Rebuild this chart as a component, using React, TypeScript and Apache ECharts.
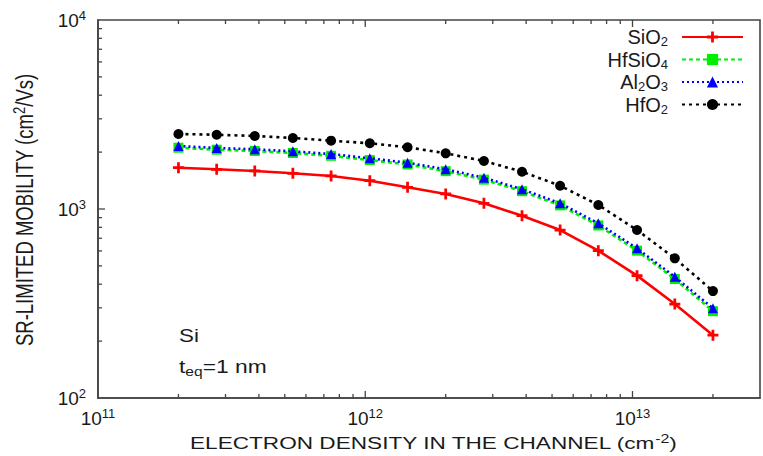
import React, { useEffect, useRef } from "react";
import * as echarts from "echarts";

const density = [2.0e11, 2.78e11, 3.86e11, 5.36e11, 7.45e11, 1.04e12, 1.44e12, 2.0e12, 2.78e12, 3.86e12, 5.36e12, 7.45e12, 1.04e13, 1.44e13, 2.0e13];
const sio2 = [1654, 1622, 1589, 1545, 1495, 1412, 1303, 1201, 1072, 922, 774, 602, 444, 314, 215];
const hfsio4 = [2110, 2060, 2028, 1978, 1912, 1815, 1720, 1585, 1430, 1242, 1045, 818, 602, 426, 288];
const al2o3 = [2154, 2103, 2070, 2020, 1954, 1855, 1758, 1622, 1464, 1272, 1072, 840, 619, 438, 298];
const hfo2 = [2494, 2472, 2433, 2376, 2299, 2227, 2121, 1971, 1795, 1575, 1328, 1050, 774, 548, 368];

const seriesNames = ["SiO2", "HfSiO4", "Al2O3", "HfO2"];
const X_MIN = 1e11;
const X_MAX = 3e13;
const Y_MIN = 1e2;
const Y_MAX = 1e4;
const xMajorTicks = [1e12, 1e13];
const xMinorTicks = [2e11, 3e11, 4e11, 5e11, 6e11, 7e11, 8e11, 9e11, 2e12, 3e12, 4e12, 5e12, 6e12, 7e12, 8e12, 9e12, 2e13];
const yMajorTicks = [1e3];
const yMinorTicks = [2e2, 3e2, 4e2, 5e2, 6e2, 7e2, 8e2, 9e2, 2e3, 3e3, 4e3, 5e3, 6e3, 7e3, 8e3, 9e3];

const FONT = "Liberation Sans, Arial, sans-serif";
const TXT = "#1a1a1a";
const AXIS = "#444";

const chem = (name: string) =>
  name.replace(/([A-Za-z]+)|(\d+)/g, (m, a, d) => (a ? `{n|${a}}` : `{s|${d}}`));

const pow10 = (v: number) => {
  const e = Math.log10(v);
  if (Math.abs(e - Math.round(e)) > 1e-6) return "";
  return `{b|10}{p|${Math.round(e)}}`;
};

const tickRich = {
  b: { fontSize: 19, fontFamily: FONT, color: TXT },
  p: { fontSize: 13, fontFamily: FONT, color: TXT, padding: [0, 0, 10, 0] },
};

export default function App() {
  const ref = useRef<HTMLDivElement>(null);
  useEffect(() => {
    if (!ref.current) return;
    const chart = echarts.init(ref.current, undefined, { renderer: "svg" });
    const plus = "path://M3,0H5V3H8V5H5V8H3V5H0V3H3Z";
    const mk = (vals: number[]) => density.map((x, i) => [x, vals[i]]);
    const tickData: number[][] = [
      ...xMinorTicks.map((v) => [v, Y_MIN, 0]),
      ...xMajorTicks.map((v) => [v, Y_MIN, 1]),
      ...yMinorTicks.map((v) => [X_MIN, v, 2]),
      ...yMajorTicks.map((v) => [X_MIN, v, 3]),
    ];
    chart.setOption({
      animation: false,
      backgroundColor: "#fff",
      grid: { left: 98, top: 20, bottom: 58, right: -9, show: true, borderColor: AXIS, borderWidth: 1.6 },
      xAxis: {
        type: "log",
        logBase: 10,
        min: X_MIN,
        max: X_MAX,
        axisLine: { lineStyle: { color: AXIS, width: 1.6 } },
        axisTick: { show: false },
        splitLine: { show: false },
        axisLabel: { formatter: pow10, rich: tickRich, margin: 9 },
      },
      yAxis: {
        type: "log",
        logBase: 10,
        min: Y_MIN,
        max: Y_MAX,
        axisLine: { lineStyle: { color: AXIS, width: 1.6 } },
        axisTick: { show: false },
        splitLine: { show: false },
        axisLabel: { formatter: pow10, rich: tickRich, margin: 12 },
      },
      legend: {
        data: seriesNames,
        orient: "vertical",
        align: "right",
        right: 19,
        top: 27,
        padding: 0,
        itemWidth: 61,
        itemHeight: 14,
        itemGap: 1.5,
        formatter: chem,
        textStyle: {
          padding: [0, 9, 0, 0],
          rich: {
            n: { fontSize: 20, fontFamily: FONT, color: TXT },
            s: { fontSize: 13, fontFamily: FONT, color: TXT, padding: [9, 0, 0, 0] },
          },
        },
      },
      graphic: [
        {
          type: "text",
          x: 433,
          y: 443,
          scaleX: 1.33,
          style: {
            text: "{n|ELECTRON DENSITY IN THE CHANNEL (cm}{p|-2}{n|)}",
            align: "center",
            verticalAlign: "middle",
            rich: {
              n: { fontSize: 17, fontFamily: FONT, fill: TXT },
              p: { fontSize: 12, fontFamily: FONT, fill: TXT, padding: [0, 0, 9, 0] },
            },
          },
        },
        {
          type: "text",
          x: 25,
          y: 210,
          rotation: Math.PI / 2,
          scaleY: 1.25,
          style: {
            text: "{n|SR-LIMITED MOBILITY (cm}{p|2}{n|/Vs)}",
            align: "center",
            verticalAlign: "middle",
            rich: {
              n: { fontSize: 18.5, fontFamily: FONT, fill: TXT },
              p: { fontSize: 13, fontFamily: FONT, fill: TXT, padding: [0, 0, 9, 0] },
            },
          },
        },
        {
          type: "text",
          x: 179,
          y: 335,
          scaleX: 1.18,
          style: { text: "Si", fontSize: 19, fontFamily: FONT, fill: TXT, verticalAlign: "middle" },
        },
        {
          type: "text",
          x: 179,
          y: 366,
          scaleX: 1.2,
          style: {
            text: "{n|t}{s|eq}{n|=1 nm}",
            verticalAlign: "middle",
            rich: {
              n: { fontSize: 19, fontFamily: FONT, fill: TXT },
              s: { fontSize: 13, fontFamily: FONT, fill: TXT, padding: [10, 0, 0, 0] },
            },
          },
        },
      ],
      series: [
        {
          name: "SiO2",
          type: "line",
          data: mk(sio2),
          symbol: plus,
          symbolSize: 11,
          color: "#ff0000",
          lineStyle: { color: "#ff0000", width: 2.6 },
          itemStyle: { color: "#ff0000" },
          z: 3,
        },
        {
          name: "HfSiO4",
          type: "line",
          data: mk(hfsio4),
          symbol: "rect",
          symbolSize: 10,
          color: "#00ee00",
          lineStyle: { color: "#00ee00", width: 2.6, type: [4, 3] },
          itemStyle: { color: "#00ee00" },
          z: 4,
        },
        {
          name: "Al2O3",
          type: "line",
          data: mk(al2o3),
          symbol: "triangle",
          symbolSize: 10,
          color: "#0000ff",
          lineStyle: { color: "#0000ff", width: 2.6, type: [2, 3] },
          itemStyle: { color: "#0000ff" },
          z: 5,
        },
        {
          name: "HfO2",
          type: "line",
          data: mk(hfo2),
          symbol: "circle",
          symbolSize: 10,
          color: "#000000",
          lineStyle: { color: "#000000", width: 2.6, type: [3, 4] },
          itemStyle: { color: "#000000" },
          z: 5,
        },
        {
          name: "ticks",
          type: "custom",
          silent: true,
          clip: false,
          z: 10,
          data: tickData,
          encode: { x: 0, y: 1 },
          renderItem: (params: any, api: any) => {
            const kind = api.value(2);
            const st = { stroke: AXIS, lineWidth: 1.3 };
            if (kind < 2) {
              const v = api.value(0);
              const pb = api.coord([v, Y_MIN]);
              const pt = api.coord([v, Y_MAX]);
              const len = kind === 1 ? 7 : 4;
              return {
                type: "group",
                children: [
                  { type: "line", shape: { x1: pb[0], y1: pb[1], x2: pb[0], y2: pb[1] - len }, style: st },
                  { type: "line", shape: { x1: pt[0], y1: pt[1], x2: pt[0], y2: pt[1] + len }, style: st },
                ],
              };
            }
            const v = api.value(1);
            const pl = api.coord([X_MIN, v]);
            const len = kind === 3 ? 7 : 4;
            return {
              type: "group",
              children: [{ type: "line", shape: { x1: pl[0], y1: pl[1], x2: pl[0] + len, y2: pl[1] }, style: st }],
            };
          },
        },
      ],
    });
    return () => chart.dispose();
  }, []);
  return <div ref={ref} style={{ width: 763, height: 456, position: "absolute", left: 0, top: 0 }} />;
}
